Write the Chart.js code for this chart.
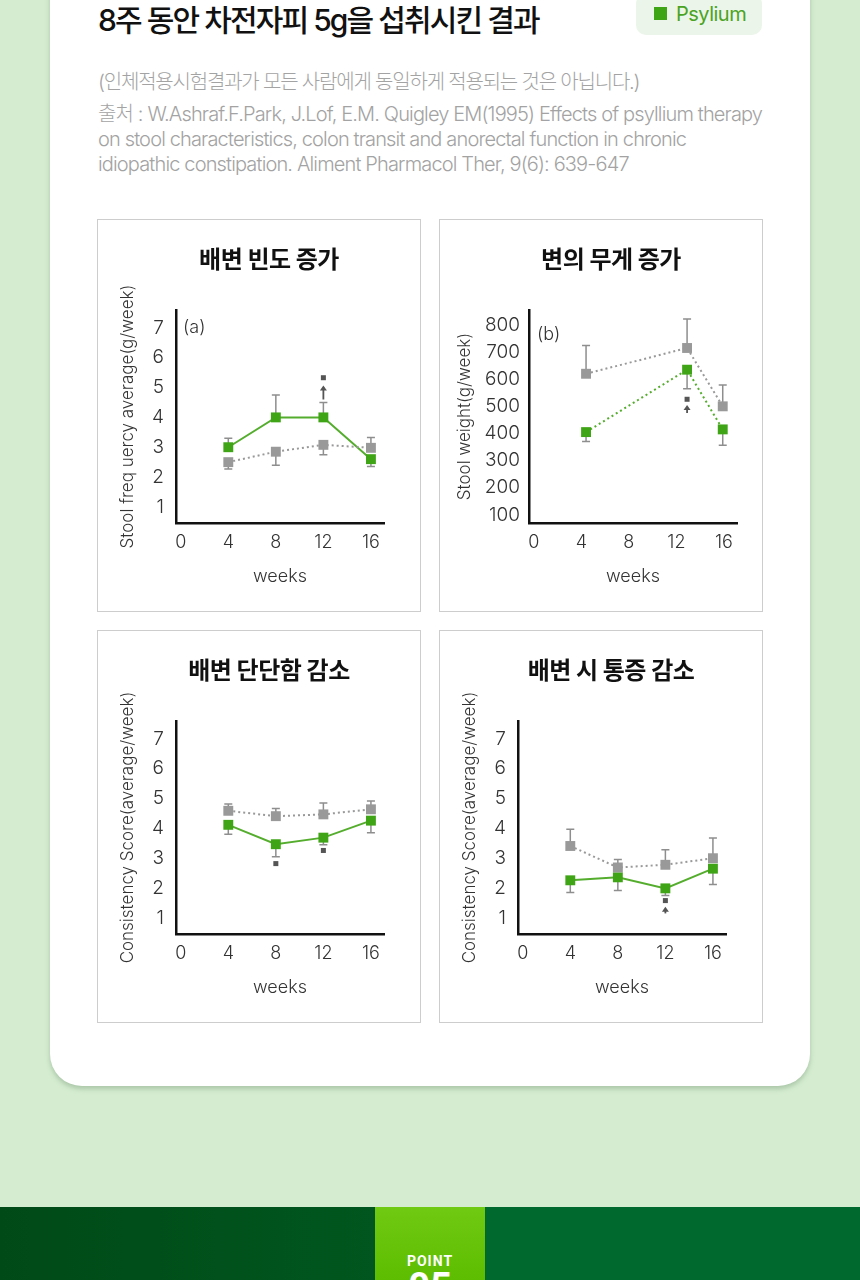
<!DOCTYPE html>
<html lang="ko">
<head>
<meta charset="utf-8">
<script src="https://cdn.jsdelivr.net/npm/chart.js@4.4.1/dist/chart.umd.min.js"></script>
<style>
  body { margin: 0; width: 860px; height: 1280px; overflow: hidden; position: relative;
         background: #d5ecd1; font-family: 'Inter', 'Noto Sans CJK KR', sans-serif; }
  .card { position: absolute; left: 50px; top: -40px; width: 760px; height: 1126px; background: #fff;
          border-radius: 0 0 32px 32px; box-shadow: 0 3px 5px rgba(90, 130, 90, 0.35); }
  .head { position: absolute; left: 98px; top: -4px; font-size: 30px; font-weight: 500; color: #111;
          letter-spacing: -1.9px; white-space: nowrap; }
  .legend { position: absolute; left: 636px; top: -6px; width: 126px; height: 41px; background: #ebf5e9;
            border-radius: 10px; font-size: 20px; font-weight: 400; color: #4aa322; line-height: 41px; box-sizing: border-box;
            padding-left: 40px; letter-spacing: -0.5px; }
  .legend .sw { position: absolute; left: 18px; top: 13px; width: 13px; height: 13px; background: #3ea515; }
  .note { position: absolute; left: 98px; top: 70px; font-size: 20px; line-height: 25px; color: #a3a3a3;
          white-space: nowrap; font-weight: 300; }
  .note .ko { letter-spacing: -1.2px; }
  .note .src { margin-top: 7px; letter-spacing: -0.85px; }
  .panel { position: absolute; width: 324px; height: 393px; border: 1px solid #cdcdcd; box-sizing: border-box; background: #fff; }
  .panel canvas { position: absolute; left: 0; top: 0; }
  .ptitle { position: absolute; left: 20px; right: 0; top: 22px; line-height: 36px; text-align: center;
            font-size: 24px; font-weight: 700; color: #111; letter-spacing: -0.5px; z-index: 2; }
  .band { position: absolute; left: 0; top: 1207px; width: 860px; height: 73px; }
  .band .bl { position: absolute; left: 0; top: 0; width: 375px; height: 73px; background: linear-gradient(90deg, #004a17, #00561e); }
  .band .br { position: absolute; left: 485px; top: 0; width: 375px; height: 73px; background: #006a2e; }
  .band .tab { position: absolute; left: 375px; top: 0; width: 110px; height: 73px; background: linear-gradient(180deg, #70c912, #5dbd00);
               text-align: center; color: #fff; overflow: hidden; }
  .tab .pt { position: absolute; left: 0; right: 0; top: 46px; font-size: 14px; font-weight: 700; letter-spacing: 1px; line-height: 16px; font-family: 'Roboto', sans-serif; }
  .tab .pn { position: absolute; left: 0; right: 0; top: 60px; font-size: 38px; font-weight: 700; line-height: 40px; font-family: 'Roboto', sans-serif; }
</style>
</head>
<body>
<div class="card"></div>
<div class="head">8주 동안 차전자피 5g을 섭취시킨 결과</div>
<div class="legend"><span class="sw"></span>Psylium</div>
<div class="note">
  <div class="ko">(인체적용시험결과가 모든 사람에게 동일하게 적용되는 것은 아닙니다.)</div>
  <div class="src">출처 : W.Ashraf.F.Park, J.Lof, E.M. Quigley EM(1995) Effects of psyllium therapy<br>on stool characteristics, colon transit and anorectal function in chronic<br>idiopathic constipation. Aliment Pharmacol Ther, 9(6): 639-647</div>
</div>

<div class="panel" style="left:97px;top:219px"><div class="ptitle">배변 빈도 증가</div><canvas id="freqChart" width="322" height="391"></canvas></div>
<div class="panel" style="left:439px;top:219px"><div class="ptitle">변의 무게 증가</div><canvas id="weightChart" width="322" height="391"></canvas></div>
<div class="panel" style="left:97px;top:630px"><div class="ptitle">배변 단단함 감소</div><canvas id="hardChart" width="322" height="391"></canvas></div>
<div class="panel" style="left:439px;top:630px"><div class="ptitle">배변 시 통증 감소</div><canvas id="painChart" width="322" height="391"></canvas></div>

<div class="band"><div class="bl"></div><div class="tab"><div class="pt">POINT</div><div class="pn">05</div></div><div class="br"></div></div>

<script>
// week ticks on every x axis
const weekTicks = [0, 4, 8, 12, 16];

// (a) stool frequency
const freqWeeks = [4, 8, 12, 16];
const freqPsyllium = [3.0, 4.0, 4.0, 2.6];
const freqPsylliumBar = [3.3, 4.75, 4.5, 2.35];   // tip of each error bar
const freqPlacebo = [2.5, 2.85, 3.08, 2.98];
const freqPlaceboBar = [2.27, 2.4, 2.75, 3.33];
const freqSig = [{ week: 12, mark: 5.33, arrow: [4.6, 5.07] }];

// (b) stool weight
const weightWeeks = [4.4, 12.9, 15.9];
const weightPsyllium = [405, 635, 415];
const weightPsylliumBar = [370, 565, 357];
const weightPlacebo = [620, 715, 500];
const weightPlaceboBar = [724, 822, 579];
const weightSig = [{ week: 12.9, mark: 526, arrow: [475, 505] }];

// consistency score
const hardWeeks = [4, 8, 12, 16];
const hardPsyllium = [4.12, 3.47, 3.69, 4.26];
const hardPsylliumBar = [3.8, 3.05, 3.45, 3.85];
const hardPlacebo = [4.59, 4.41, 4.47, 4.64];
const hardPlaceboBar = [4.82, 4.67, 4.85, 4.92];
const hardSig = [{ week: 8, mark: 2.82 }, { week: 12, mark: 3.26 }];

// pain score
const painWeeks = [4, 8, 12, 16];
const painPsyllium = [2.26, 2.36, 1.99, 2.65];
const painPsylliumBar = [1.85, 1.92, 1.75, 2.12];
const painPlacebo = [3.41, 2.69, 2.78, 3.0];
const painPlaceboBar = [3.97, 2.96, 3.28, 3.68];
const painSig = [{ week: 12, mark: 1.58, arrow: [1.15, 1.37] }];

const GREEN = '#3fa516';
const GREEN_LINE = '#55ad2e';
const GRAY = '#999999';
const FONT = "'Inter', 'Noto Sans CJK KR', sans-serif";

// error bars, drawn under the markers
const errorBars = {
    id: 'errorBars',
    beforeDatasetsDraw(chart) {
        const ctx = chart.ctx;
        const yScale = chart.scales.y;
        chart.data.datasets.forEach((ds, i) => {
            const meta = chart.getDatasetMeta(i);
            meta.data.forEach((pt, j) => {
                const tip = ds.barTips[j];
                if (tip == null) return;
                const ty = yScale.getPixelForValue(tip);
                ctx.save();
                ctx.strokeStyle = '#8e8e8e';
                ctx.lineWidth = 1.5;
                ctx.beginPath();
                ctx.moveTo(pt.x, pt.y);
                ctx.lineTo(pt.x, ty);
                ctx.moveTo(pt.x - 4, ty);
                ctx.lineTo(pt.x + 4, ty);
                ctx.stroke();
                ctx.restore();
            });
        });
    }
};

// significance squares / arrows and the panel letter
const sigMarks = {
    id: 'sigMarks',
    afterDatasetsDraw(chart, args, opts) {
        const ctx = chart.ctx;
        const xs = chart.scales.x, ys = chart.scales.y;
        ctx.save();
        (opts.marks || []).forEach(m => {
            const x = xs.getPixelForValue(m.week);
            const my = ys.getPixelForValue(m.mark);
            ctx.fillStyle = '#555';
            ctx.fillRect(x - 2.5, my - 2.5, 5, 5);
            if (m.arrow) {
                const y0 = ys.getPixelForValue(m.arrow[0]);
                const y1 = ys.getPixelForValue(m.arrow[1]);
                ctx.strokeStyle = '#555';
                ctx.lineWidth = 1.8;
                ctx.beginPath();
                ctx.moveTo(x, y0);
                ctx.lineTo(x, y1 + 2);
                ctx.stroke();
                ctx.beginPath();
                ctx.moveTo(x, y1);
                ctx.lineTo(x - 3.5, y1 + 5);
                ctx.lineTo(x + 3.5, y1 + 5);
                ctx.closePath();
                ctx.fill();
            }
        });
        if (opts.letter) {
            ctx.fillStyle = '#333';
            ctx.font = '300 18px ' + FONT;
            ctx.textBaseline = 'middle';
            ctx.fillText(opts.letter, chart.chartArea.left + opts.letterDx, chart.chartArea.top + opts.letterDy);
        }
        ctx.restore();
    }
};

function series(label, weeks, values, tips, color, lineColor, dotted) {
    return {
        label: label,
        data: weeks.map((w, i) => ({ x: w, y: values[i] })),
        barTips: tips,
        borderColor: lineColor,
        backgroundColor: color,
        borderWidth: 2,
        borderDash: dotted ? [2, 3] : [],
        pointStyle: 'rect',
        pointRadius: 7,
        pointBorderWidth: 0,
        pointBackgroundColor: color,
        tension: 0
    };
}

function makeChart(canvasId, cfg) {
    return new Chart(document.getElementById(canvasId), {
        type: 'line',
        data: { datasets: cfg.datasets },
        plugins: [errorBars, sigMarks],
        options: {
            responsive: false,
            animation: false,
            layout: { padding: { top: 90, right: cfg.rightPad, bottom: 0, left: 0 } },
            plugins: {
                legend: { display: false },
                tooltip: { enabled: false },
                sigMarks: { marks: cfg.sig, letter: cfg.letter, letterDx: cfg.letterDx, letterDy: cfg.letterDy }
            },
            scales: {
                x: {
                    type: 'linear',
                    min: -0.4,
                    max: 17.1,
                    afterFit: s => { s.height = 88; },
                    afterBuildTicks: s => { s.ticks = weekTicks.map(v => ({ value: v })); },
                    grid: { display: false, drawTicks: false },
                    border: { color: '#111', width: 2.5 },
                    ticks: { padding: 9, color: '#333', font: { family: FONT, size: 18, weight: 300 } },
                    title: { display: true, text: 'weeks', color: '#333', padding: { top: 0, bottom: 24 },
                             font: { family: FONT, size: 18, weight: 300 } }
                },
                y: {
                    min: cfg.yMin,
                    max: cfg.yMax,
                    afterFit: s => { s.width = cfg.yWidth; },
                    afterBuildTicks: s => { s.ticks = cfg.yTicks.map(v => ({ value: v })); },
                    grid: { display: false, drawTicks: false },
                    border: { color: '#111', width: 2.5 },
                    ticks: { padding: cfg.yPad, color: '#333', font: { family: FONT, size: 19, weight: 300 } },
                    title: { display: true, text: cfg.yTitle, color: '#333', padding: { top: cfg.yTitlePad, bottom: 0 },
                             font: { family: FONT, size: 17, weight: 300 } }
                }
            }
        }
    });
}

const scoreTicks = [1, 2, 3, 4, 5, 6, 7];
const weightTicks = [100, 200, 300, 400, 500, 600, 700, 800];

makeChart('freqChart', {
    datasets: [
        series('Placebo', freqWeeks, freqPlacebo, freqPlaceboBar, GRAY, GRAY, true),
        series('Psylium', freqWeeks, freqPsyllium, freqPsylliumBar, GREEN, GREEN_LINE, false)
    ],
    sig: freqSig, letter: '(a)', letterDx: 7, letterDy: 18,
    yMin: 0.46, yMax: 7.6, yTicks: scoreTicks, yWidth: 78, yPad: 12, yTitlePad: 20, rightPad: 36,
    yTitle: 'Stool freq uercy average(g/week)'
});

makeChart('weightChart', {
    datasets: [
        series('Placebo', weightWeeks, weightPlacebo, weightPlaceboBar, GRAY, GRAY, true),
        series('Psylium', weightWeeks, weightPsyllium, weightPsylliumBar, GREEN, GREEN_LINE, true)
    ],
    sig: weightSig, letter: '(b)', letterDx: 8, letterDy: 25,
    yMin: 70, yMax: 855, yTicks: weightTicks, yWidth: 89, yPad: 9, yTitlePad: 15, rightPad: 25,
    yTitle: 'Stool weight(g/week)'
});

makeChart('hardChart', {
    datasets: [
        series('Placebo', hardWeeks, hardPlacebo, hardPlaceboBar, GRAY, GRAY, true),
        series('Psylium', hardWeeks, hardPsyllium, hardPsylliumBar, GREEN, GREEN_LINE, false)
    ],
    sig: hardSig,
    yMin: 0.46, yMax: 7.6, yTicks: scoreTicks, yWidth: 78, yPad: 12, yTitlePad: 20, rightPad: 36,
    yTitle: 'Consistency Score(average/week)'
});

makeChart('painChart', {
    datasets: [
        series('Placebo', painWeeks, painPlacebo, painPlaceboBar, GRAY, GRAY, true),
        series('Psylium', painWeeks, painPsyllium, painPsylliumBar, GREEN, GREEN_LINE, false)
    ],
    sig: painSig,
    yMin: 0.46, yMax: 7.6, yTicks: scoreTicks, yWidth: 78, yPad: 12, yTitlePad: 20, rightPad: 36,
    yTitle: 'Consistency Score(average/week)'
});
</script>
</body>
</html>
